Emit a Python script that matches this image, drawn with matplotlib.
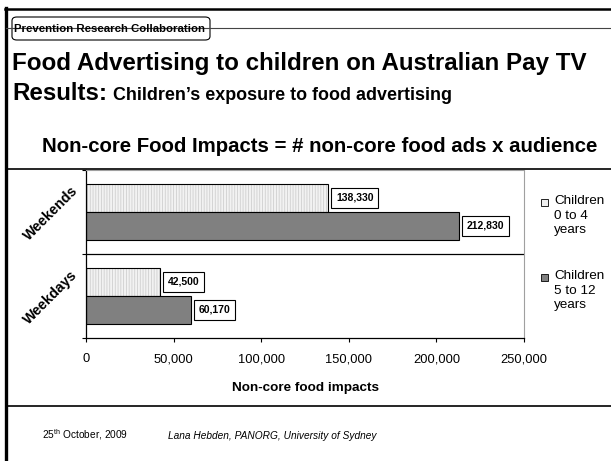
import matplotlib
matplotlib.use("Agg")
import matplotlib.pyplot as plt
from matplotlib.patches import FancyBboxPatch, Rectangle
from matplotlib.lines import Line2D
from matplotlib.ticker import FuncFormatter, FixedLocator

plt.rcParams['font.family'] = ['Liberation Sans', 'DejaVu Sans']
plt.rcParams['mathtext.fontset'] = 'custom'
plt.rcParams['mathtext.rm'] = 'Liberation Sans'
plt.rcParams['hatch.linewidth'] = 0.6

# ---- data ----
categories = ["Weekdays", "Weekends"]
series_labels = ["Children\n0 to 4\nyears", "Children\n5 to 12\nyears"]
children_0_4 = [42500, 138330]
children_5_12 = [60170, 212830]
x_ticks = [0, 50000, 100000, 150000, 200000, 250000]

W, H = 611, 461
fig = plt.figure(figsize=(W / 100, H / 100), dpi=100)
fig.patch.set_facecolor("white")

def fx(x):
    return x / W

def fy(y):
    return 1 - y / H

# ---- slide frame ----
fig.add_artist(Line2D([fx(6), fx(6)], [fy(8), fy(461)], color="black", lw=2.4))
fig.add_artist(Line2D([fx(5), fx(611)], [fy(9), fy(9)], color="black", lw=1.8))
fig.add_artist(Line2D([fx(6), fx(611)], [fy(28), fy(28)], color="#444444", lw=0.8))
fig.add_artist(Line2D([fx(6), fx(611)], [fy(169), fy(169)], color="black", lw=1.2))
fig.add_artist(Line2D([fx(6), fx(611)], [fy(406), fy(406)], color="black", lw=1.2))

box = FancyBboxPatch((fx(12), fy(40)), fx(210) - fx(12), fy(17) - fy(40),
                     boxstyle="round,pad=0,rounding_size=0.008",
                     transform=fig.transFigure, fc="white", ec="black", lw=0.8)
fig.add_artist(box)
fig.text(fx(14), fy(32), "Prevention Research Collaboration", fontsize=8.2,
         fontweight="bold", ha="left", va="baseline")

fig.text(fx(12), fy(70), "Food Advertising to children on Australian Pay TV",
         fontsize=17.4, fontweight="bold", ha="left", va="baseline")
fig.text(fx(12), fy(100), "Results:", fontsize=17.4, fontweight="bold",
         ha="left", va="baseline")
fig.text(fx(113), fy(100), "Children\u2019s exposure to food advertising",
         fontsize=12.85, fontweight="bold", ha="left", va="baseline")
fig.text(fx(320), fy(152), "Non-core Food Impacts = # non-core food ads x audience",
         fontsize=14.7, fontweight="bold", ha="center", va="baseline")

fig.text(fx(42), fy(438.5), r"25$^{\mathrm{th}}$ October, 2009", fontsize=7.3,
         ha="left", va="baseline")
fig.text(fx(168), fy(438.5), "Lana Hebden, PANORG, University of Sydney",
         fontsize=7.3, style="italic", ha="left", va="baseline")

# ---- chart ----
ax = fig.add_axes([fx(86), fy(338), fx(524) - fx(86), fy(170) - fy(338)])
ypos = list(range(len(categories)))
bh = 1 / 3
light_y = [y + bh / 2 for y in ypos]
dark_y = [y - bh / 2 for y in ypos]
# light series: fill + fine light-grey vertical hatch, then black outline
ax.barh(light_y, children_0_4, height=bh, color="#f2f2f2",
        edgecolor="#cfcfcf", linewidth=0, hatch="||||||")
light = ax.barh(light_y, children_0_4, height=bh, fill=False,
                edgecolor="black", linewidth=0.8, label=series_labels[0])
dark = ax.barh(dark_y, children_5_12, height=bh, color="#808080",
               edgecolor="black", linewidth=0.8, label=series_labels[1])

for bars, vals in ((light, children_0_4), (dark, children_5_12)):
    for b, v in zip(bars, vals):
        ax.annotate(f"{v:,}", xy=(v, b.get_y() + b.get_height() / 2),
                    xytext=(5.5, 0), textcoords="offset points",
                    ha="left", va="center", fontsize=7.5, fontweight="bold",
                    bbox=dict(boxstyle="square,pad=0.45", fc="white",
                              ec="black", lw=0.8))

ax.set_xlim(0, 250000)
ax.set_ylim(-0.5, len(categories) - 0.5)
ax.set_xticks(x_ticks)
ax.xaxis.set_major_formatter(FuncFormatter(lambda v, p: f"{int(v):,}"))
ax.yaxis.set_major_locator(FixedLocator([-0.5, 0.5, 1.5]))
ax.set_yticklabels([])
ax.tick_params(axis="x", direction="out", length=3, width=0.8, labelsize=9.3,
               pad=8)
ax.tick_params(axis="y", direction="out", length=3, width=0.8)
ax.axhline(0.5, color="black", lw=0.9)
for s in ("left", "bottom"):
    ax.spines[s].set_color("black")
    ax.spines[s].set_linewidth(0.9)
for s in ("top", "right"):
    ax.spines[s].set_color("#a0a0a0")
    ax.spines[s].set_linewidth(0.8)
ax.set_xlabel("Non-core food impacts", fontsize=9.7, fontweight="bold",
              labelpad=12)

for y, name in zip(ypos, categories):
    ax.text(-0.08, y - 0.02, name, transform=ax.get_yaxis_transform(),
            rotation=45, ha="center", va="center", fontsize=10.3,
            fontweight="bold")

# ---- legend (manual, marker aligned to first line) ----
leg_colors = ["#f0f0f0", "#808080"]
leg_top = [202, 277]
for lab, col, yy in zip(series_labels, leg_colors, leg_top):
    fig.add_artist(Rectangle((fx(541), fy(yy + 3.5)), fx(7), 7 / H,
                             transform=fig.transFigure, fc=col, ec="black",
                             lw=0.6))
    fig.text(fx(554), fy(yy - 7), lab, fontsize=9.7, ha="left", va="top",
             linespacing=1.3)

fig.savefig("out.png", dpi=100, facecolor="white")
